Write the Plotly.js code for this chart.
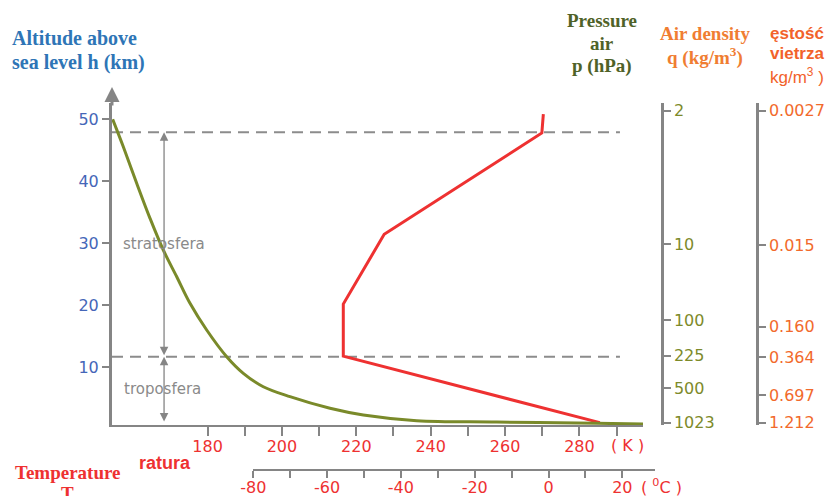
<!DOCTYPE html>
<html><head><meta charset="utf-8">
<script src="https://cdn.plot.ly/plotly-3.0.1.min.js"></script>
<style>body{margin:0;background:#fff}#chart{width:829px;height:496px}</style>
</head><body><div id="chart"></div>
<script>
// ---- data ----
const altTicks = [10, 20, 30, 40, 50];
const kTicks = [180, 190, 200, 210, 220, 230, 240, 250, 260, 270, 280, 290];
const kLabels = ['180', '', '200', '', '220', '', '240', '', '260', '', '280', ''];
const cTicks = [-80, -70, -60, -50, -40, -30, -20, -10, 0, 10, 20];
const cLabels = ['-80', '', '-60', '', '-40', '', '-20', '', '0', '', '20'];
// temperature profile (K) vs altitude (km)
const tempK = [285.5, 216.5, 216.5, 227.5, 269.9, 270.3];
const tempAlt = [1.07, 11.8, 20.2, 31.45, 47.8, 50.85];
// pressure curve: relative horizontal position (0-100 % of plot width) vs altitude (km)
const presRel = [0.13, 2.13, 4.65, 7.16, 9.66, 12.19, 14.69, 17.83, 21.6, 24.73, 28.49, 33.52, 41.05, 47.33, 57.38, 72.45, 91.28, 100];
const presAlt = [50.0, 45.58, 39.68, 34.03, 28.92, 24.61, 20.32, 16.02, 11.71, 9.03, 6.87, 5.26, 3.39, 2.31, 1.39, 1.18, 0.97, 0.85];
// pressure scale labels and their altitudes
const pressureLabels = ['2', '10', '100', '225', '500', '1023'];
const pressureAlt = [51.39, 29.89, 17.63, 11.87, 6.61, 1.06];
// density scale labels and their altitudes
const densityLabels = ['0.0027', '0.015', '0.160', '0.364', '0.697', '1.212'];
const densityAlt = [51.39, 29.73, 16.55, 11.61, 5.53, 1.06];
// layer boundaries (km): tropopause, stratopause
const layerBounds = [11.7, 47.9];
const surfaceAlt = 1.02;

// ---- geometry helpers (pixels -> paper) ----
const L = 112, T = 103, W = 645, H = 367;
const px = x => (x - L) / W;
const py = y => (T + H - y) / H;

const GRAY = '#858585';
const RED = '#ee3131';
const BLUE_T = '#2e75b6';
const BLUE = '#4566b8';
const OLIVE_T = '#4f6228';
const OLIVE = '#7d8a2a';
const ORANGE_T = '#f07d32';
const ORANGE = '#f26a2c';
const yRange = [0.694, 52.63];
const kRange = [154.3, 297.1];
const arrowK = 168.3;

const traces = [
  {x: presRel, y: presAlt, xaxis: 'x3', yaxis: 'y', mode: 'lines',
   line: {color: '#7a8a2a', width: 3, shape: 'spline', smoothing: 1}, hoverinfo: 'skip'},
  {x: tempK, y: tempAlt, xaxis: 'x', yaxis: 'y', mode: 'lines',
   line: {color: RED, width: 3}, hoverinfo: 'skip'},
  {x: [], y: [], xaxis: 'x2', yaxis: 'y', mode: 'lines'},
  {x: [], y: [], xaxis: 'x', yaxis: 'y2', mode: 'lines'},
  {x: [], y: [], xaxis: 'x', yaxis: 'y3', mode: 'lines'}
];

const tickFont = c => ({family: 'DejaVu Sans', size: 16, color: c});

const ann = [];
function txt(text, x, y, opts) {
  ann.push(Object.assign({xref: 'paper', yref: 'paper', x: px(x), y: py(y), text: text,
    showarrow: false, xanchor: 'center', yanchor: 'middle'}, opts));
}
const serif = (s, c) => ({family: 'Liberation Serif', size: s, color: c});
txt('<b>Altitude above</b>', 10, 38, {xanchor: 'left', font: serif(20, BLUE_T)});
txt('<b>sea level h (km)</b>', 10, 62, {xanchor: 'left', font: serif(20, BLUE_T)});
txt('<b>Pressure</b>', 602, 20, {font: serif(19, OLIVE_T)});
txt('<b>air</b>', 602, 43, {font: serif(19, OLIVE_T)});
txt('<b>p (hPa)</b>', 602, 66, {font: serif(19, OLIVE_T)});
txt('<b>Air density</b>', 705, 33, {font: serif(19, ORANGE_T)});
txt('<b>q (kg/m<sup>3</sup>)</b>', 705, 57, {font: serif(19, ORANGE_T)});
txt('<b>ęstość</b>', 768, 33, {xanchor: 'left', font: {family: 'Liberation Sans', size: 17, color: '#f2622a'}});
txt('<b>vietrza</b>', 768, 54, {xanchor: 'left', font: {family: 'Liberation Sans', size: 17, color: '#f2622a'}});
txt('kg/m<sup>3</sup> )', 768, 76, {xanchor: 'left', font: {family: 'Liberation Sans', size: 17, color: '#f2622a'}});
txt('<b>Temperature</b>', 67.5, 472, {font: serif(19, RED)});
txt('<b>T</b>', 67.5, 493, {font: serif(19, RED)});
txt('<b>ratura</b>', 137, 463, {xanchor: 'left', font: {family: 'Liberation Sans', size: 18, color: RED}});
txt('stratosfera', 121, 244, {xanchor: 'left', font: {family: 'DejaVu Sans', size: 15, color: '#8a8a8a'}});
txt('troposfera', 122, 389, {xanchor: 'left', font: {family: 'DejaVu Sans', size: 15, color: '#8a8a8a'}});
txt('( K )', 627.5, 445, {font: tickFont(RED)});
txt('( <sup>0</sup>C )', 661, 486.5, {font: tickFont(RED)});

// y axis arrow head
ann.push({xref: 'paper', yref: 'paper', x: 0, y: py(87), ax: 0, ay: 20, text: '', showarrow: true,
  arrowhead: 2, arrowsize: 1, arrowwidth: 3, arrowcolor: GRAY, standoff: 0});
// layer double arrows
ann.push({xref: 'x', yref: 'y', axref: 'x', ayref: 'y', x: arrowK, y: layerBounds[1], ax: arrowK, ay: layerBounds[0],
  text: '', showarrow: true, arrowside: 'end+start', arrowhead: 2, arrowsize: 1.3, arrowwidth: 1.3, arrowcolor: GRAY, standoff: 0, startstandoff: 0});
ann.push({xref: 'x', yref: 'y', axref: 'x', ayref: 'y', x: arrowK, y: layerBounds[0], ax: arrowK, ay: surfaceAlt,
  text: '', showarrow: true, arrowside: 'end+start', arrowhead: 2, arrowsize: 1.3, arrowwidth: 1.3, arrowcolor: GRAY, standoff: 0, startstandoff: 0});

const shapes = layerBounds.map(h => ({type: 'line', xref: 'x', yref: 'y', x0: kRange[0], x1: 290.9, y0: h, y1: h,
  line: {color: '#8c8c8c', width: 2, dash: '11px,7px'}, layer: 'below'}));

const layout = {
  width: 829, height: 496,
  margin: {l: L, r: 829 - L - W, t: T, b: 496 - T - H, pad: 0},
  paper_bgcolor: '#ffffff', plot_bgcolor: 'rgba(0,0,0,0)',
  showlegend: false,
  font: {family: 'DejaVu Sans'},
  xaxis: {domain: [0, 531 / W], range: kRange, anchor: 'y', showgrid: false, zeroline: false,
    showline: true, linecolor: GRAY, linewidth: 2, ticks: 'outside', ticklen: 9, tickwidth: 2, tickcolor: GRAY,
    ticklabelstandoff: -3,
    tickmode: 'array', tickvals: kTicks, ticktext: kLabels, tickfont: tickFont(RED)},
  xaxis2: {domain: [px(253.3), px(655)], range: [-80, 28.86], anchor: 'free', position: 0, showgrid: false, zeroline: false,
    showline: true, linecolor: GRAY, linewidth: 2, ticks: 'outside', ticklen: 7, tickwidth: 2, tickcolor: GRAY,
    ticklabelstandoff: -4,
    tickmode: 'array', tickvals: cTicks, ticktext: cLabels, tickfont: tickFont(RED)},
  xaxis3: {overlaying: 'x', range: [0, 100], visible: false, anchor: 'y'},
  yaxis: {domain: [(496 - 26 - 425) / H, 1], range: yRange, anchor: 'x', showgrid: false, zeroline: false,
    showline: true, linecolor: GRAY, linewidth: 3, ticks: 'outside', ticklen: 7, tickwidth: 2, tickcolor: GRAY,
    tickmode: 'array', tickvals: altTicks, tickfont: tickFont(BLUE)},
  yaxis2: {overlaying: 'y', anchor: 'free', position: px(661.7), side: 'right', range: yRange, showgrid: false, zeroline: false,
    showline: true, linecolor: GRAY, linewidth: 3, ticks: 'outside', ticklen: 7, tickwidth: 2, tickcolor: GRAY,
    tickmode: 'array', tickvals: pressureAlt, ticktext: pressureLabels, tickfont: tickFont(OLIVE)},
  yaxis3: {overlaying: 'y', anchor: 'free', position: px(756.7), side: 'right', range: yRange, showgrid: false, zeroline: false,
    showline: true, linecolor: GRAY, linewidth: 3, ticks: 'outside', ticklen: 7, tickwidth: 2, tickcolor: GRAY,
    tickmode: 'array', tickvals: densityAlt, ticktext: densityLabels, tickfont: tickFont(ORANGE)},
  annotations: ann,
  shapes: shapes
};
Plotly.newPlot('chart', traces, layout, {staticPlot: true, displayModeBar: false});
</script></body></html>
